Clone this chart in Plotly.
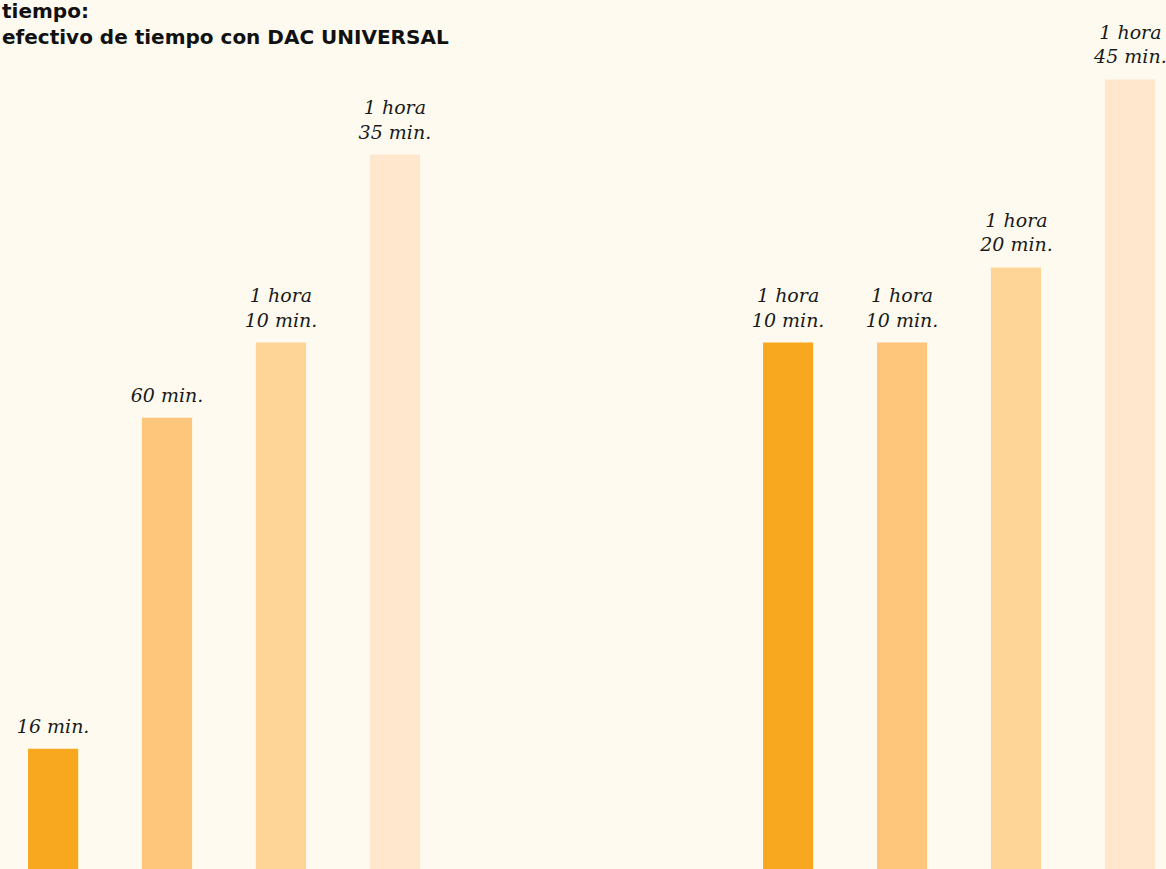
import plotly.graph_objects as go

# Data
groups = ["Grupo 1", "Grupo 2"]
series_names = ["Serie 1", "Serie 2", "Serie 3", "Serie 4"]
minutes_s1 = [16, 70]
minutes_s2 = [60, 70]
minutes_s3 = [70, 80]
minutes_s4 = [95, 105]
title_lines = ["tiempo:", "efectivo de tiempo con DAC UNIVERSAL"]

colors = ["#F8A81F", "#FEC67A", "#FED597", "#FEE7CC"]
BG = "#FEFAEF"


def fmt(m):
    if m <= 60:
        return f"{m} min."
    h, r = divmod(m, 60)
    return f"{h} hora<br>{r} min."


fig = go.Figure()
for name, vals, col in zip(series_names, [minutes_s1, minutes_s2, minutes_s3, minutes_s4], colors):
    fig.add_trace(go.Bar(
        x=groups, y=vals, name=name,
        marker=dict(color=col, line=dict(width=0)),
        text=[fmt(v) for v in vals],
        textposition="outside",
        constraintext="none",
        textfont=dict(family="DejaVu Serif", size=19, color="#1a1a1a", style="italic"),
        cliponaxis=False,
        hoverinfo="skip",
    ))

W, H = 1166, 869
px_per_min = 7.52
cat_px = 735.0
x0 = -224.0 / cat_px
x1 = x0 + W / cat_px

fig.update_layout(
    width=W, height=H,
    margin=dict(l=0, r=0, t=0, b=0),
    barmode="group",
    bargap=0.38,
    bargroupgap=0.56,
    showlegend=False,
    paper_bgcolor=BG,
    plot_bgcolor=BG,
    xaxis=dict(range=[x0, x1], visible=False, fixedrange=True),
    yaxis=dict(range=[0, H / px_per_min], visible=False, fixedrange=True),
    annotations=[dict(
        text="<b>" + "<br>".join(title_lines) + "</b>",
        xref="paper", yref="paper", x=0, y=1 - 51 / H,
        xanchor="left", yanchor="bottom", align="left", showarrow=False,
        font=dict(family="DejaVu Sans", size=20, color="#111111"),
    )],
)

post = (
    "document.body.style.margin='0';"
    "document.body.style.background='" + BG + "';"
    "var ns='http://www.w3.org/2000/svg';"
    "document.querySelectorAll('text.bartext').forEach(function(t){"
    "var g=document.createElementNS(ns,'g');"
    "g.setAttribute('transform','translate(0,-9)');"
    "t.parentNode.insertBefore(g,t);g.appendChild(t);});"
)

fig.write_html("out.html", config={"displayModeBar": False}, post_script=post)
